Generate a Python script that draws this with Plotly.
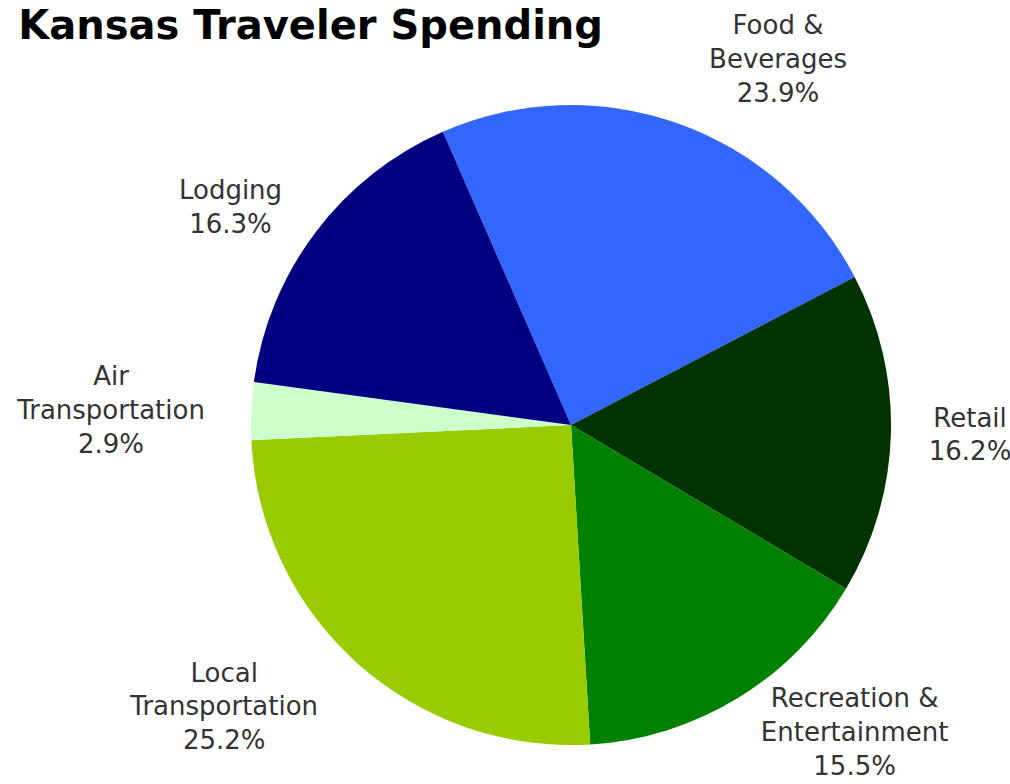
import plotly.graph_objects as go

categories = ["Food &<br>Beverages", "Retail", "Recreation &<br>Entertainment",
              "Local<br>Transportation", "Air<br>Transportation", "Lodging"]
values = [23.9, 16.2, 15.5, 25.2, 2.9, 16.3]
colors = ["#3366ff", "#003300", "#008000", "#99cc00", "#ccffcc", "#000080"]

LABEL_FMT = "%{label}<br>%{value:.1f}%"
inner_label = {"Recreation &<br>Entertainment"}   # labels drawn on the tighter label ring

common = dict(labels=categories, values=values, sort=False,
              direction="clockwise", rotation=336.4, showlegend=False)
label_font = dict(family="DejaVu Sans, Arial, sans-serif", size=26, color="#333333")
clear = dict(colors=["rgba(0,0,0,0)"] * len(values), line=dict(width=0))

# visible pie
fig = go.Figure(go.Pie(
    **common,
    marker=dict(colors=colors, line=dict(width=0)),
    textinfo="none",
    hoverinfo="label+percent",
    domain=dict(x=[0.2485, 0.8822], y=[0.0497, 0.8661]),
))

# transparent rings that only carry the outside labels
fig.add_trace(go.Pie(
    **common,
    marker=clear,
    textposition="outside",
    texttemplate=["" if c in inner_label else LABEL_FMT for c in categories],
    textfont=label_font,
    hoverinfo="skip",
    domain=dict(x=[0.2267, 0.9039], y=[0.0217, 0.8941]),
))
fig.add_trace(go.Pie(
    **common,
    marker=clear,
    textposition="outside",
    texttemplate=[LABEL_FMT if c in inner_label else "" for c in categories],
    textfont=label_font,
    hoverinfo="skip",
    domain=dict(x=[0.2505, 0.8802], y=[0.0523, 0.8635]),
))

fig.update_layout(
    width=1010, height=784,
    margin=dict(l=0, r=0, t=0, b=0, autoexpand=False),
    paper_bgcolor="white",
    title=dict(text="<b>Kansas Traveler Spending</b>", x=0.018, xanchor="left",
               y=0.986, yanchor="top",
               font=dict(family="DejaVu Sans, Arial, sans-serif", size=40, color="#000000")),
)

fig.write_html("out.html", config={"displayModeBar": False},
               post_script="document.body.style.margin='0';")
